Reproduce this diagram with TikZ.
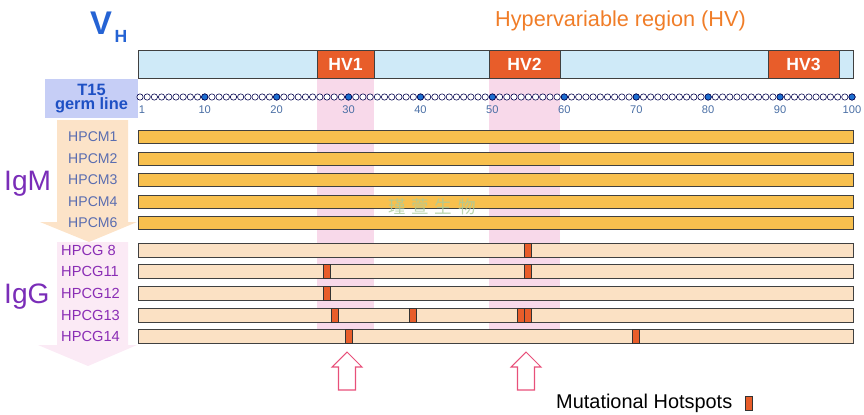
\documentclass[tikz,border=0pt]{standalone}
\usepackage{fontspec}
\setmainfont{Liberation Sans}
\newfontfamily\cjkfont{Noto Sans CJK SC}
\usetikzlibrary{calc}

\definecolor{hvblue}{HTML}{CFEAF8}
\definecolor{hvorange}{HTML}{E85D2A}
\definecolor{titleorange}{HTML}{F07D28}
\definecolor{vhblue}{HTML}{2563D4}
\definecolor{germbox}{HTML}{C6CEF6}
\definecolor{germtext}{HTML}{1E50C4}
\definecolor{igmbar}{HTML}{F8C04E}
\definecolor{iggbar}{HTML}{FBE1C4}
\definecolor{igmlabel}{HTML}{5A6DB0}
\definecolor{igglabel}{HTML}{8A2DB5}
\definecolor{isotype}{HTML}{7A2DB8}
\definecolor{hvpink}{HTML}{F8D9EA}
\definecolor{arrowpink}{HTML}{E8507A}
\definecolor{igmarrow}{HTML}{FCE3C8}
\definecolor{iggarrow}{HTML}{FBEAF5}
\definecolor{dotblue}{HTML}{1E6FD0}
\definecolor{ticktext}{HTML}{4A6FA5}
\definecolor{stamp}{HTML}{A9CC9C}

\begin{document}
\begin{tikzpicture}[x=0.03cm, y=-0.03cm,
  bar/.style={draw=black!75, line width=0.6pt, minimum width=21.45cm, inner sep=0pt},
  igm/.style={bar, fill=igmbar, minimum height=0.39cm},
  igg/.style={bar, fill=iggbar, minimum height=0.42cm},
  hvbox/.style={draw=black!75, line width=0.6pt, fill=hvorange, text=white, inner sep=0pt,
    minimum height=0.84cm, font=\fontsize{15}{15}\selectfont\bfseries},
  hot/.style={draw=black!80, line width=0.5pt, fill=hvorange, inner sep=0pt, minimum width=0.22cm},
  dot/.style={circle, draw=black!70!blue, line width=0.5pt, fill=white, inner sep=0pt, minimum size=0.19cm},
  tick/.style={text=ticktext, font=\fontsize{9.5}{10}\selectfont, inner sep=0pt},
  mlabel/.style={anchor=west, text=igmlabel, font=\fontsize{12}{12}\selectfont, inner sep=0pt},
  glabel/.style={anchor=west, text=igglabel, font=\fontsize{12.5}{12.5}\selectfont, inner sep=0pt},
  isolabel/.style={anchor=base west, text=isotype, font=\fontsize{24}{24}\selectfont, inner sep=0pt},
  hotarrow/.style={draw=arrowpink, line width=0.9pt, fill=white, line join=miter}]

\useasboundingbox (0,0) rectangle (864,414);

% background arrows IgM -> IgG
\fill[igmarrow] (57,120) -- (128,120) -- (128,222) -- (137,222) -- (89,242) -- (40,222) -- (57,222) -- cycle;
\fill[iggarrow] (57,242) -- (128,242) -- (128,345) -- (137,345) -- (88,366) -- (38,345) -- (57,345) -- cycle;

% hypervariable columns
\fill[hvpink] (317,78) rectangle (374,330);
\fill[hvpink] (489,78) rectangle (560,330);

% titles
\node[name=vh, text=vhblue, font=\fontsize{28}{28}\selectfont\bfseries, inner sep=0pt] at (101,23) {V};
\node[name=vhsub, text=vhblue, font=\fontsize{15}{15}\selectfont\bfseries, inner sep=0pt] at (121,36) {H};
\node[name=title, anchor=base west, text=titleorange, font=\fontsize{18.5}{19}\selectfont, inner sep=0pt] at (495,26) {Hypervariable region (HV)};

% V_H domain with HV regions
\node[name=vdomain, bar, fill=hvblue, minimum height=0.84cm] at (495.5,64) {};
\node[name=hv1, hvbox, minimum width=1.71cm] at (345.5,64) {HV1};
\node[name=hv2, hvbox, minimum width=2.13cm] at (524.5,64) {HV2};
\node[name=hv3, hvbox, minimum width=2.13cm] at (803.5,64) {HV3};

% germ line
\node[name=germ, fill=germbox, minimum width=2.79cm, minimum height=1.17cm, inner sep=0pt,
  text=germtext, align=center, font=\fontsize{14}{12.5}\selectfont\bfseries] at (91.5,98.5) {T15\\germ line};
\foreach \i in {1,...,100}
  \node[name=d\i, dot] at ({140+(\i-1)*7.192},97) {};
\foreach \i in {10,20,...,100}
  \node[name=b\i, dot, fill=dotblue] at ({140+(\i-1)*7.192},97) {};
\node[name=t1, tick] at (142,110) {1};
\foreach \i in {10,20,...,100}
  \node[name=t\i, tick] at ({140+(\i-1)*7.192},110) {\i};

% IgM clones
\node[name=m1, igm] at (495.5,136.5) {};
\node[name=m2, igm] at (495.5,158.5) {};
\node[name=m3, igm] at (495.5,180) {};
\node[name=m4, igm] at (495.5,201.5) {};
\node[name=m6, igm] at (495.5,222.5) {};
\node[name=lm1, mlabel] at (68,136.5) {HPCM1};
\node[name=lm2, mlabel] at (68,158.5) {HPCM2};
\node[name=lm3, mlabel] at (68,180) {HPCM3};
\node[name=lm4, mlabel] at (68,201.5) {HPCM4};
\node[name=lm6, mlabel] at (68,222.5) {HPCM6};

% IgG clones
\node[name=g8, igg] at (495.5,250.5) {};
\node[name=g11, igg] at (495.5,271.5) {};
\node[name=g12, igg] at (495.5,293.5) {};
\node[name=g13, igg] at (495.5,315) {};
\node[name=g14, igg] at (495.5,336.5) {};
\node[name=lg8, glabel] at (61,250.5) {HPCG 8};
\node[name=lg11, glabel] at (61,271.5) {HPCG11};
\node[name=lg12, glabel] at (61,293.5) {HPCG12};
\node[name=lg13, glabel] at (61,315) {HPCG13};
\node[name=lg14, glabel] at (61,336.5) {HPCG14};

\node[name=igm, isolabel] at (4,190) {IgM};
\node[name=igg, isolabel] at (4,303) {IgG};

% mutations
\node[name=h8a, hot, minimum height=0.42cm] at (528,250.5) {};
\node[name=h11a, hot, minimum height=0.42cm] at (327,271.5) {};
\node[name=h11b, hot, minimum height=0.42cm] at (528,271.5) {};
\node[name=h12a, hot, minimum height=0.42cm] at (327,293.5) {};
\node[name=h13a, hot, minimum height=0.42cm] at (335,315) {};
\node[name=h13b, hot, minimum height=0.42cm] at (413,315) {};
\node[name=h13c, hot, minimum height=0.42cm] at (521,315) {};
\node[name=h13d, hot, minimum height=0.42cm] at (528,315) {};
\node[name=h14a, hot, minimum height=0.42cm] at (349,336.5) {};
\node[name=h14b, hot, minimum height=0.42cm] at (636,336.5) {};

% hotspot arrows
\foreach \cx in {347,526}
  \draw[hotarrow] (\cx-8.5,390) -- (\cx-8.5,367) -- (\cx-15,367) -- (\cx,352)
    -- (\cx+15,367) -- (\cx+8.5,367) -- (\cx+8.5,390) -- cycle;

% legend
\node[name=legend, anchor=base west, font=\fontsize{17}{17}\selectfont, inner sep=0pt] at (556,408) {Mutational Hotspots};
\node[name=legendkey, hot, minimum height=0.42cm] at (748.5,403) {};

% stamp
\node[name=stamp, text=stamp, text opacity=0.8, font=\cjkfont\fontsize{15}{15}\selectfont] at (432,207) {瑾\,\,萱\,\,生\,\,物};
\end{tikzpicture}
\end{document}
